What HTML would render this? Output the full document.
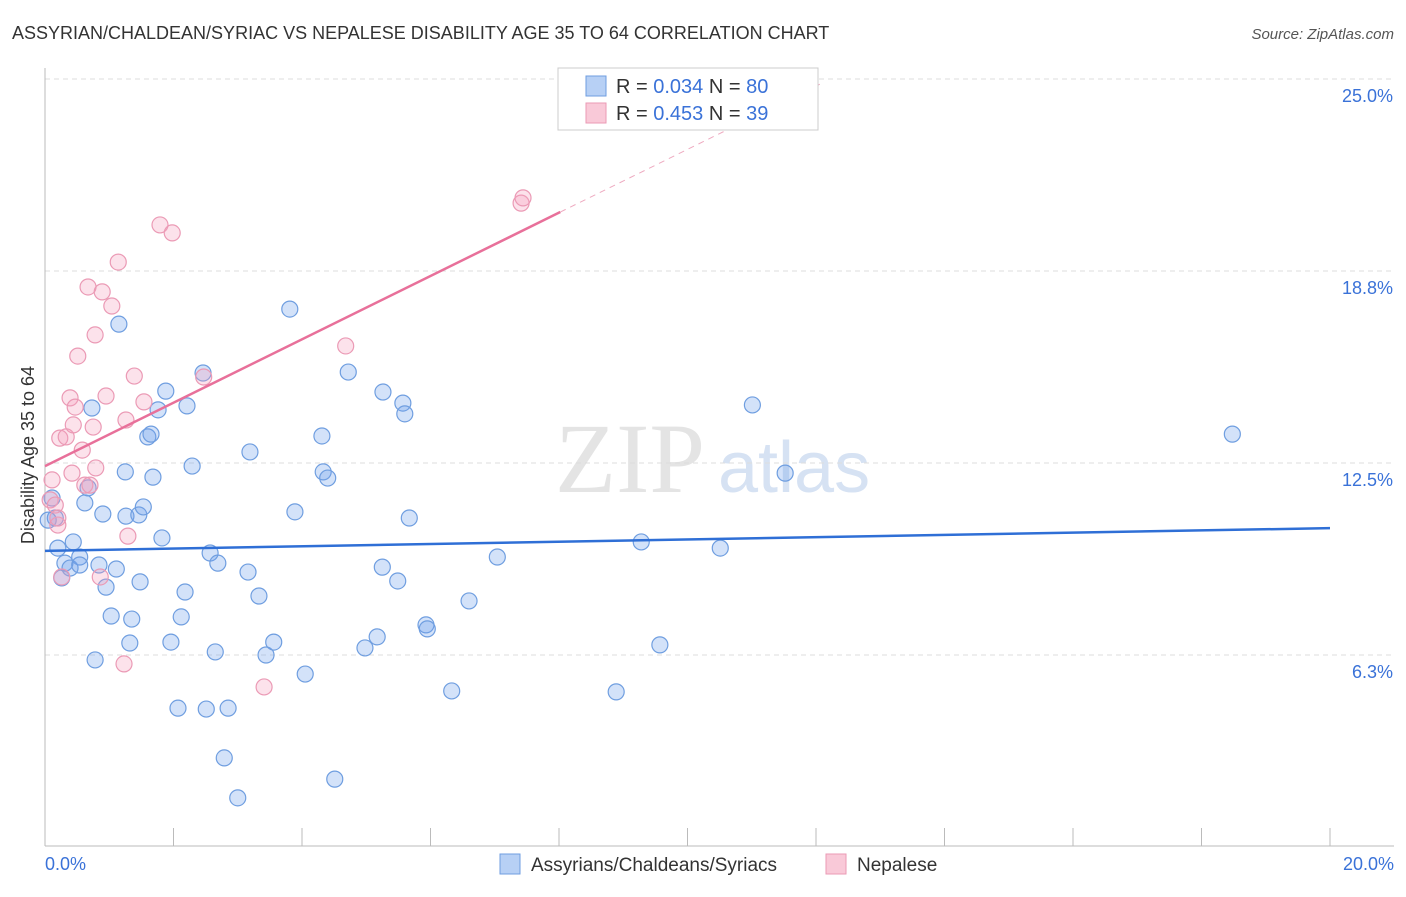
<!DOCTYPE html>
<html><head><meta charset="utf-8"><style>
body{margin:0;background:#fff;font-family:"Liberation Sans",sans-serif;}
</style></head><body>
<svg id="c" width="1406" height="892" xmlns="http://www.w3.org/2000/svg" style="font-family:'Liberation Sans',sans-serif">
<text x="12" y="39" font-size="18" fill="#333">ASSYRIAN/CHALDEAN/SYRIAC VS NEPALESE DISABILITY AGE 35 TO 64 CORRELATION CHART</text>
<text x="1394" y="39" font-size="15" fill="#555" font-style="italic" text-anchor="end">Source: ZipAtlas.com</text>
<text x="555" y="492" font-size="100" fill="#e4e4e4" font-family="Liberation Serif,serif">ZIP</text>
<text x="718" y="492" font-size="72" fill="#d6e2f3">atlas</text>
<g id="grid"></g><g id="axes"></g><g id="pts"></g><g id="lines"></g>
<text transform="translate(34,455) rotate(-90)" font-size="18" fill="#333" text-anchor="middle">Disability Age 35 to 64</text>
<g>
<rect x="558" y="68" width="260" height="62" fill="#fff" stroke="#ccc"/>
<rect x="586" y="76" width="20" height="20" fill="#b7d0f5" stroke="#6f9ee0"/>
<text x="616" y="93" font-size="20" fill="#333">R = <tspan fill="#3a72d8">0.034</tspan>   N = <tspan fill="#3a72d8">80</tspan></text>
<rect x="586" y="103" width="20" height="20" fill="#f9c9d8" stroke="#eb9ab5"/>
<text x="616" y="120" font-size="20" fill="#333">R = <tspan fill="#3a72d8">0.453</tspan>   N = <tspan fill="#3a72d8">39</tspan></text>
</g>
<g>
<rect x="500" y="854" width="20" height="20" fill="#b7d0f5" stroke="#6f9ee0"/>
<text x="531" y="871" font-size="19" fill="#333">Assyrians/Chaldeans/Syriacs</text>
<rect x="826" y="854" width="20" height="20" fill="#f9c9d8" stroke="#eb9ab5"/>
<text x="857" y="871" font-size="19" fill="#333">Nepalese</text>
</g>
</svg>
<script>
const blueX=[0.11,0.16,0.20,0.26,0.31,0.39,0.44,0.54,0.54,0.62,0.67,0.73,0.78,0.84,0.90,0.95,1.03,1.11,1.15,1.25,1.26,1.32,1.35,1.46,1.48,1.53,1.60,1.65,1.68,1.76,1.82,1.88,1.96,2.07,2.12,2.18,2.21,2.29,2.46,2.51,2.57,2.65,2.69,2.85,2.79,3.00,3.16,3.19,3.33,3.44,3.56,3.81,3.89,4.05,4.31,4.33,4.40,4.51,4.72,4.98,5.17,5.25,5.26,5.49,5.57,5.60,5.67,5.93,5.95,6.33,6.60,7.04,8.89,9.28,9.57,10.51,11.01,11.52,18.48,0.05];
const blueY=[11.36,10.71,9.73,8.76,9.24,9.08,9.93,9.44,9.18,11.20,11.69,14.29,6.09,9.18,10.84,8.46,7.52,9.05,17.02,12.21,10.77,6.64,7.42,10.81,8.63,11.07,13.35,13.44,12.04,14.23,10.06,14.84,6.67,4.52,7.49,8.30,14.36,12.40,15.43,4.49,9.57,6.35,9.24,4.52,2.90,1.60,8.95,12.86,8.17,6.25,6.67,17.51,10.91,5.63,13.38,12.21,12.01,2.21,15.46,6.48,6.84,9.11,14.81,8.66,14.45,14.10,10.71,7.23,7.10,5.08,8.01,9.44,5.05,9.93,6.58,9.73,14.39,12.17,13.44,10.64];
const pinkX=[0.08,0.11,0.16,0.20,0.20,0.23,0.26,0.33,0.39,0.42,0.44,0.47,0.51,0.58,0.62,0.67,0.70,0.75,0.78,0.79,0.86,0.89,0.95,1.04,1.14,1.23,1.26,1.29,1.39,1.54,1.79,1.98,2.47,3.41,4.68,7.41,7.44];
const pinkY=[11.30,11.95,11.13,10.48,10.71,13.31,8.79,13.35,14.62,12.17,13.74,14.32,15.98,12.92,11.78,18.23,11.78,13.67,16.67,12.34,8.79,18.07,14.68,17.61,19.04,5.96,13.90,10.12,15.33,14.49,20.25,19.99,15.30,5.21,16.31,20.96,21.13];
const blueTrend=[9.64,10.38];
const pinkTrend=[12.40,20.67,24.83];
const pinkTrendX=[0,8.02,12.06];
const yTicks=[25,18.75,12.5,6.25];
const yTickLabels=["25.0%","18.8%","12.5%","6.3%"];
const xTicks=[0,2,4,6,8,10,12,14,16,18,20];
const NS="http://www.w3.org/2000/svg";
const xs=v=>45+v*64.25, ys=v=>847-v*30.72;
function mk(t,a,p){const e=document.createElementNS(NS,t);for(const k in a)e.setAttribute(k,a[k]);document.getElementById(p).appendChild(e);return e;}
yTicks.forEach((v,i)=>{
 const l=mk('line',{x1:45,x2:1394,y1:ys(v),y2:ys(v),stroke:'#ddd','stroke-dasharray':'5,4'},'grid');
 
 
 const t=mk('text',{x:1393,y:ys(v)+23,'font-size':18,fill:'#3a72d8','text-anchor':'end'},'axes');
 t.textContent=yTickLabels[i];
 
 
});
const ax=mk('line',{x1:45,x2:45,y1:68,y2:846,stroke:'#bbb'},'axes');


const bx=mk('line',{x1:45,x2:1394,y1:846,y2:846,stroke:'#bbb'},'axes');


xTicks.forEach(v=>{const l=mk('line',{x1:xs(v),x2:xs(v),y1:828,y2:846,stroke:'#bbb'},'axes');
 
 });
[[0,"0.0%","start",45],[20,"20.0%","end",1394]].forEach(d=>{const t=mk('text',{x:d[3],y:870,'font-size':18,fill:'#3a72d8','text-anchor':d[2]},'axes');t.textContent=d[1];
 
 });
blueX.forEach((x,i)=>{const c=mk('circle',{cx:xs(x),cy:ys(blueY[i]),r:8,fill:'rgba(110,160,235,0.3)',stroke:'#6f9ee0','stroke-width':1.2},'pts');
 
 });
pinkX.forEach((x,i)=>{const c=mk('circle',{cx:xs(x),cy:ys(pinkY[i]),r:8,fill:'rgba(245,160,190,0.3)',stroke:'#eb9ab5','stroke-width':1.2},'pts');
 
 });
const bl=mk('line',{x1:xs(0),y1:ys(blueTrend[0]),x2:xs(20),y2:ys(blueTrend[1]),stroke:'#2f6fd6','stroke-width':2.5},'lines');


const pl=mk('line',{x1:xs(pinkTrendX[0]),y1:ys(pinkTrend[0]),x2:xs(pinkTrendX[1]),y2:ys(pinkTrend[1]),stroke:'#e8709a','stroke-width':2.5},'lines');


const pd=mk('line',{x1:xs(pinkTrendX[1]),y1:ys(pinkTrend[1]),x2:xs(pinkTrendX[2]),y2:ys(pinkTrend[2]),stroke:'#eeaac0','stroke-width':1,'stroke-dasharray':'6,5'},'lines');


</script>
</body></html>
